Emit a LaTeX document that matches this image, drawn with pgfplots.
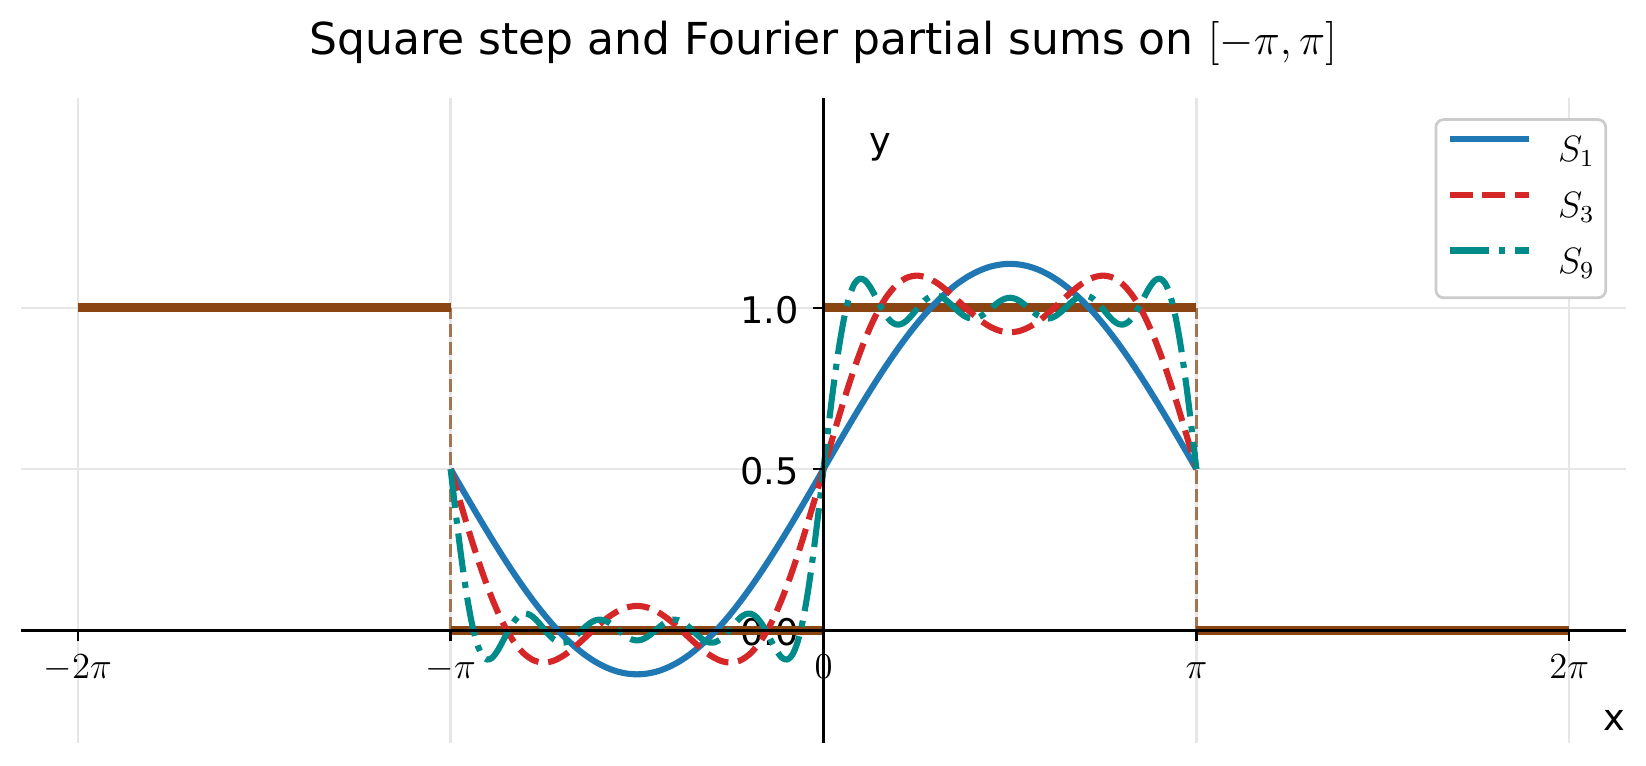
\documentclass[border=0pt]{standalone}
\usepackage[no-math]{fontspec}
\setmainfont{DejaVu Sans}
\usepackage{pgfplots}
\usepackage{pgfplotstable}
\pgfplotsset{compat=1.18}
\definecolor{sone}{HTML}{1F77B4}
\definecolor{sthree}{HTML}{D62728}
\definecolor{snine}{HTML}{008B8B}
\definecolor{stepc}{HTML}{8B4513}
\definecolor{legedge}{HTML}{CCCCCC}
\definecolor{gridc}{HTML}{E6E6E6}

\pgfplotsset{
  layers/mylayers/.define layer set={
    axis background,axis grid,axis tick labels,pre main,main,axis ticks,axis lines,axis descriptions,axis foreground
  }{/pgfplots/layers/standard},
}

% x in degrees (180 = pi); partial sums S1, S3
\pgfplotstableread{
x s1 s3
-180 0.5000 0.5000
-175 0.4445 0.3896
-170 0.3895 0.2833
-165 0.3352 0.1852
-160 0.2823 0.0985
-155 0.2310 0.0260
-150 0.1817 -0.0305
-145 0.1349 -0.0701
-140 0.0908 -0.0930
-135 0.0498 -0.1002
-130 0.0123 -0.0938
-125 -0.0215 -0.0764
-120 -0.0513 -0.0513
-115 -0.0770 -0.0221
-110 -0.0982 0.0079
-105 -0.1149 0.0351
-100 -0.1270 0.0568
-95 -0.1342 0.0708
-90 -0.1366 0.0756
-85 -0.1342 0.0708
-80 -0.1270 0.0568
-75 -0.1149 0.0351
-70 -0.0982 0.0079
-65 -0.0770 -0.0221
-60 -0.0513 -0.0513
-55 -0.0215 -0.0764
-50 0.0123 -0.0938
-45 0.0498 -0.1002
-40 0.0908 -0.0930
-35 0.1349 -0.0701
-30 0.1817 -0.0305
-25 0.2310 0.0260
-20 0.2823 0.0985
-15 0.3352 0.1852
-10 0.3895 0.2833
-5 0.4445 0.3896
0 0.5000 0.5000
5 0.5555 0.6104
10 0.6105 0.7167
15 0.6648 0.8148
20 0.7177 0.9015
25 0.7690 0.9740
30 0.8183 1.0305
35 0.8651 1.0701
40 0.9092 1.0930
45 0.9502 1.1002
50 0.9877 1.0938
55 1.0215 1.0764
60 1.0513 1.0513
65 1.0770 1.0221
70 1.0982 0.9921
75 1.1149 0.9649
80 1.1270 0.9432
85 1.1342 0.9292
90 1.1366 0.9244
95 1.1342 0.9292
100 1.1270 0.9432
105 1.1149 0.9649
110 1.0982 0.9921
115 1.0770 1.0221
120 1.0513 1.0513
125 1.0215 1.0764
130 0.9877 1.0938
135 0.9502 1.1002
140 0.9092 1.0930
145 0.8651 1.0701
150 0.8183 1.0305
155 0.7690 0.9740
160 0.7177 0.9015
165 0.6648 0.8148
170 0.6105 0.7167
175 0.5555 0.6104
180 0.5000 0.5000
}\tabA

% partial sum S9
\pgfplotstableread{
x s9
-180 0.5000
-177.5 0.3626
-175 0.2336
-172.5 0.1207
-170 0.0296
-167.5 -0.0361
-165 -0.0757
-162.5 -0.0908
-160 -0.0854
-157.5 -0.0650
-155 -0.0362
-152.5 -0.0053
-150 0.0220
-147.5 0.0417
-145 0.0512
-142.5 0.0502
-140 0.0401
-137.5 0.0236
-135 0.0041
-132.5 -0.0145
-130 -0.0291
-127.5 -0.0373
-125 -0.0380
-122.5 -0.0317
-120 -0.0198
-117.5 -0.0048
-115 0.0104
-112.5 0.0231
-110 0.0311
-107.5 0.0330
-105 0.0287
-102.5 0.0191
-100 0.0061
-97.5 -0.0078
-95 -0.0201
-92.5 -0.0285
-90 -0.0315
-87.5 -0.0285
-85 -0.0201
-82.5 -0.0078
-80 0.0061
-77.5 0.0191
-75 0.0287
-72.5 0.0330
-70 0.0311
-67.5 0.0231
-65 0.0104
-62.5 -0.0048
-60 -0.0198
-57.5 -0.0317
-55 -0.0380
-52.5 -0.0373
-50 -0.0291
-47.5 -0.0145
-45 0.0041
-42.5 0.0236
-40 0.0401
-37.5 0.0502
-35 0.0512
-32.5 0.0417
-30 0.0220
-27.5 -0.0053
-25 -0.0362
-22.5 -0.0650
-20 -0.0854
-17.5 -0.0908
-15 -0.0757
-12.5 -0.0361
-10 0.0296
-7.5 0.1207
-5 0.2336
-2.5 0.3626
0 0.5000
2.5 0.6374
5 0.7664
7.5 0.8793
10 0.9704
12.5 1.0361
15 1.0757
17.5 1.0908
20 1.0854
22.5 1.0650
25 1.0362
27.5 1.0053
30 0.9780
32.5 0.9583
35 0.9488
37.5 0.9498
40 0.9599
42.5 0.9764
45 0.9959
47.5 1.0145
50 1.0291
52.5 1.0373
55 1.0380
57.5 1.0317
60 1.0198
62.5 1.0048
65 0.9896
67.5 0.9769
70 0.9689
72.5 0.9670
75 0.9713
77.5 0.9809
80 0.9939
82.5 1.0078
85 1.0201
87.5 1.0285
90 1.0315
92.5 1.0285
95 1.0201
97.5 1.0078
100 0.9939
102.5 0.9809
105 0.9713
107.5 0.9670
110 0.9689
112.5 0.9769
115 0.9896
117.5 1.0048
120 1.0198
122.5 1.0317
125 1.0380
127.5 1.0373
130 1.0291
132.5 1.0145
135 0.9959
137.5 0.9764
140 0.9599
142.5 0.9498
145 0.9488
147.5 0.9583
150 0.9780
152.5 1.0053
155 1.0362
157.5 1.0650
160 1.0854
162.5 1.0908
165 1.0757
167.5 1.0361
170 0.9704
172.5 0.8793
175 0.7664
177.5 0.6374
180 0.5000
}\tabB

\begin{document}
\begin{tikzpicture}
\begin{axis}[
  set layers=mylayers,
  scale only axis, width=525.26pt, height=211pt,
  at={(0,0)}, anchor=south west,
  xmin=-387.4, xmax=387.4, ymin=-0.35, ymax=1.65,
  enlargelimits=false,
  axis lines=middle,
  axis line style={-, black, line width=0.8pt},
  every inner x axis line/.append style={-},
  every inner y axis line/.append style={-},
  hide obscured x ticks=false, hide obscured y ticks=false,
  xtick={-360,-180,0,180,360},
  xticklabels={$-2\pi$,$-\pi$,$0$,$\pi$,$2\pi$},
  ytick={0,0.5,1},
  yticklabels={0.0,0.5,1.0},
  minor tick num=0,
  tick align=outside,
  major tick length=3.5pt,
  tick style={black, line width=0.8pt},
  tick label style={font=\fontsize{12}{14}\selectfont},
  xticklabel style={anchor=base, inner sep=0pt, yshift=-12.2pt},
  yticklabel style={anchor=east, inner sep=0pt, xshift=-4.45pt, yshift=-0.7pt},
  grid=major, grid style={gridc, line width=0.8pt},
  legend style={
    at={(rel axis cs:0.98819,0.9692)}, anchor=north east,
    draw=legedge, line width=0.9pt, rounded corners=2.5pt, fill=white,
    inner xsep=3.6pt, inner ysep=4.6pt,
    row sep=5.8pt, column sep=8.5pt,
    font=\fontsize{12}{14}\selectfont,
    nodes={inner sep=0pt, text height=9pt, text depth=3.5pt},
  },
  legend cell align=left,
  legend image code/.code={\draw[#1] (0pt,4.6pt) -- (25.9pt,4.6pt);},
]
% dashed connectors of the step
\addplot[forget plot, stepc, draw opacity=0.7, line width=1.1pt, dash pattern=on 4.3pt off 1.7pt] coordinates {(-180,0) (-180,1)};
\addplot[forget plot, stepc, draw opacity=0.7, line width=1.1pt, dash pattern=on 4.3pt off 1.7pt] coordinates {(0,0) (0,1)};
\addplot[forget plot, stepc, draw opacity=0.7, line width=1.1pt, dash pattern=on 4.3pt off 1.7pt] coordinates {(180,0) (180,1)};
% step pieces
\addplot[forget plot, stepc, line width=3pt] coordinates {(-360,1) (-180,1)};
\addplot[forget plot, stepc, line width=3pt] coordinates {(-180,0) (0,0)};
\addplot[forget plot, stepc, line width=3pt] coordinates {(0,1) (180,1)};
\addplot[forget plot, stepc, line width=3pt] coordinates {(180,0) (360,0)};
% partial sums
\addplot[sone, line width=2pt, smooth, line join=round] table[x=x, y=s1] {\tabA};
\addlegendentry{$S_1$}
\addplot[sthree, line width=2pt, smooth, line join=round, dash pattern=on 7.4pt off 3.2pt] table[x=x, y=s3] {\tabA};
\addlegendentry{$S_3$}
\addplot[snine, line width=2pt, smooth, line join=round, dash pattern=on 12.8pt off 3.2pt on 2pt off 3.2pt] table[x=x, y=s9] {\tabB};
\addlegendentry{$S_9$}
\end{axis}
\node[anchor=base, font=\fontsize{14.4}{17}\selectfont] at (262.63pt,225.2pt) {Square step and Fourier partial sums on $[-\pi,\pi]$};
\node[anchor=base, font=\fontsize{12}{14}\selectfont] at (281.1pt,193.1pt) {y};
\node[anchor=base, font=\fontsize{12}{14}\selectfont] at (521.3pt,4.25pt) {x};
\pgfresetboundingbox
\path[use as bounding box] (-6.87pt,-7.2pt) rectangle (531.8pt,243.2pt);
\end{tikzpicture}
\end{document}
